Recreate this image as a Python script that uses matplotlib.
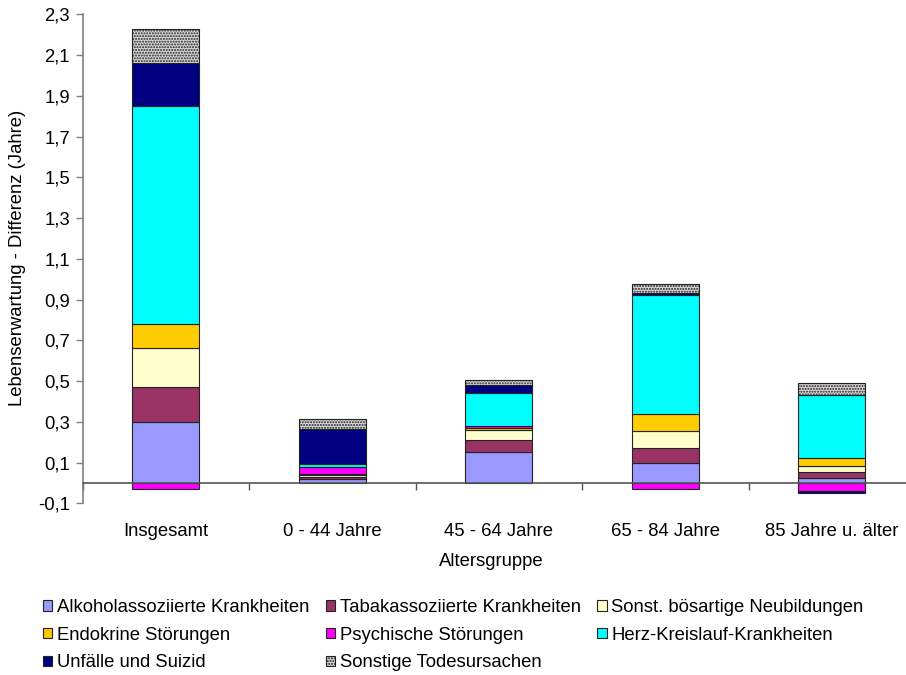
import numpy as np
import matplotlib
matplotlib.use("Agg")
import matplotlib.pyplot as plt
from matplotlib.patches import Patch

plt.rcParams['font.family'] = ['Liberation Sans', 'DejaVu Sans']
plt.rcParams['hatch.linewidth'] = 1.0

categories = ["Insgesamt", "0 - 44 Jahre", "45 - 64 Jahre", "65 - 84 Jahre", "85 Jahre u. älter"]

series_names = [
    "Alkoholassoziierte Krankheiten",
    "Tabakassoziierte Krankheiten",
    "Sonst. bösartige Neubildungen",
    "Endokrine Störungen",
    "Psychische Störungen",
    "Herz-Kreislauf-Krankheiten",
    "Unfälle und Suizid",
    "Sonstige Todesursachen",
]

alkohol = [0.30, 0.02, 0.15, 0.10, 0.025]
tabak = [0.17, 0.01, 0.06, 0.07, 0.03]
neubildungen = [0.19, 0.01, 0.05, 0.085, 0.03]
endokrin = [0.12, 0.005, 0.01, 0.085, 0.035]
psychisch = [-0.03, 0.035, 0.01, -0.03, -0.04]
herz_kreislauf = [1.07, 0.012, 0.16, 0.58, 0.31]
unfaelle = [0.21, 0.175, 0.04, 0.01, -0.01]
sonstige = [0.17, 0.045, 0.025, 0.045, 0.06]

yticks = [-0.1, 0.1, 0.3, 0.5, 0.7, 0.9, 1.1, 1.3, 1.5, 1.7, 1.9, 2.1, 2.3]

series = [alkohol, tabak, neubildungen, endokrin, psychisch, herz_kreislauf, unfaelle, sonstige]
colors = ["#9999FF", "#993366", "#FFFFCC", "#FFCC00", "#FF00FF", "#00FFFF", "#000080", "#D8D8D8"]
hatches = [None] * 7 + ["......"]

FS = 13.3
W, H = 906, 675
fig = plt.figure(figsize=(W / 100, H / 100), dpi=100)
left, right = 82.5 / W, 915.0 / W
top, bottom = 1 - 14.3 / H, 1 - 503.3 / H
ax = fig.add_axes([left, bottom, right - left, top - bottom])

x = np.arange(len(categories))
pos_bottom = np.zeros(len(categories))
neg_bottom = np.zeros(len(categories))
for vals, col, hat in zip(series, colors, hatches):
    v = np.array(vals, dtype=float)
    b = np.where(v >= 0, pos_bottom, neg_bottom)
    ax.bar(x, v, width=0.40, bottom=b, color=col, edgecolor="#222222",
           linewidth=0.8, hatch=hat, zorder=3)
    pos_bottom += np.where(v >= 0, v, 0)
    neg_bottom += np.where(v < 0, v, 0)

ax.set_xlim(-0.5, len(categories) - 0.5)
ax.set_ylim(-0.1, 2.3)

# y axis
ax.set_yticks(yticks)
ax.set_yticklabels([f"{t:.1f}".replace(".", ",") for t in yticks], fontsize=FS)
ax.tick_params(axis="y", direction="out", length=5, width=1, color="#808080", pad=4)
ax.spines["left"].set_color("#808080")
ax.spines["left"].set_linewidth(1.2)
for s in ("top", "right"):
    ax.spines[s].set_visible(False)

# x axis sits on the zero line
ax.spines["bottom"].set_position(("data", 0))
ax.spines["bottom"].set_color("#555555")
ax.spines["bottom"].set_linewidth(1.2)
ax.spines["bottom"].set_zorder(4)
ax.set_xticks(x)
ax.set_xticklabels(categories, fontsize=FS)
ax.set_xticks(np.arange(len(categories) + 1) - 0.5, minor=True)
ax.tick_params(axis="x", which="major", length=0, pad=29)
ax.tick_params(axis="x", which="minor", direction="out", length=5, width=1, color="#555555")

fig.text(18 / W, 1 - 258 / H, "Lebenserwartung - Differenz (Jahre)", rotation=90,
         ha="center", va="center", fontsize=FS)
fig.text(491 / W, 1 - 562 / H, "Altersgruppe", ha="center", va="center", fontsize=FS)

# legend, filled row by row in three columns
handles = [Patch(facecolor=c, edgecolor="#222222", linewidth=0.8, hatch=h)
           for c, h in zip(colors, hatches)]
order = [0, 3, 6, 1, 4, 7, 2, 5]
fig.legend([handles[i] for i in order], [series_names[i] for i in order],
           loc="upper left", bbox_to_anchor=(43 / W, 1 - 599 / H), ncol=3,
           frameon=False, fontsize=FS, handlelength=0.5, handleheight=0.5,
           handletextpad=0.25, columnspacing=0.9, labelspacing=0.58,
           borderpad=0, borderaxespad=0)

fig.savefig("out.png", dpi=100)
